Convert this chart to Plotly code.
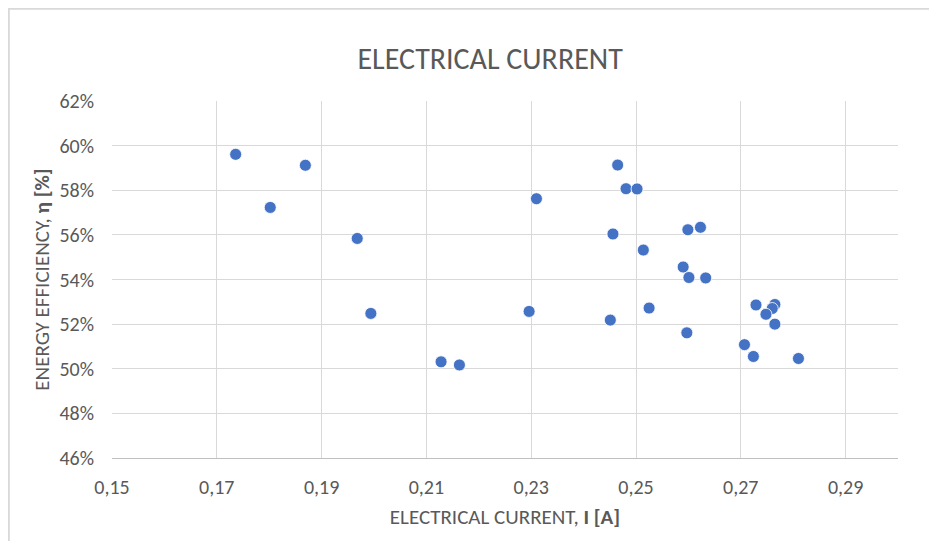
import plotly.graph_objects as go

current_A = [0.1736, 0.1869, 0.1802, 0.1968, 0.1994, 0.2128, 0.2163,
             0.2465, 0.2481, 0.2502, 0.2310, 0.2456, 0.2599, 0.2623,
             0.2514, 0.2590, 0.2601, 0.2633, 0.2296, 0.2525, 0.2451,
             0.2597, 0.2729, 0.2765, 0.2760, 0.2748, 0.2765, 0.2707,
             0.2724, 0.2810]
efficiency = [0.5961, 0.5912, 0.5723, 0.5584, 0.5248, 0.5031, 0.5017,
              0.5913, 0.5807, 0.5806, 0.5762, 0.5604, 0.5623, 0.5634,
              0.5532, 0.5456, 0.5409, 0.5407, 0.5257, 0.5272, 0.5218,
              0.5161, 0.5286, 0.5288, 0.5270, 0.5244, 0.5200, 0.5108,
              0.5055, 0.5046]

title_text = "ELECTRICAL CURRENT"
x_title = "ELECTRICAL CURRENT, <b>I [A]</b>"
y_title = "ENERGY EFFICIENCY, <b>η [%]</b>"

FONT = "Carlito, 'Liberation Sans Narrow', 'Open Sans', sans-serif"
GREY = "#595959"

W, H = 929, 533
L, R, T, B = 104, 39, 93, 83

fig = go.Figure(go.Scatter(
    x=current_A, y=efficiency, mode="markers",
    marker=dict(size=12, color="#4472C4", line=dict(color="white", width=0.8)),
    hoverinfo="x+y",
))

pw, ph = W - L - R, H - T - B

fig.update_layout(
    width=W, height=H,
    margin=dict(l=L, r=R, t=T, b=B),
    paper_bgcolor="white", plot_bgcolor="white",
    separators=",.",
    font=dict(family=FONT, color=GREY, size=20),
    title=dict(text=title_text, x=0.519, xanchor="center", y=0.906, yanchor="middle",
               xref="container", yref="container",
               font=dict(size=30, color=GREY, family=FONT)),
    showlegend=False,
    shapes=[dict(type="rect", xref="paper", yref="paper",
                 x0=(0.8 - L) / pw, x1=(W + 20 - L) / pw,
                 y0=-(B + 20) / ph, y1=(T + ph - 0.8) / ph,
                 line=dict(color="#d9d9d9", width=2), layer="below")],
)

fig.update_xaxes(
    range=[0.15, 0.30], tick0=0.15, dtick=0.02, tickformat=".2f",
    showgrid=True, gridcolor="#d9d9d9", gridwidth=1,
    showline=True, linecolor="#bfbfbf", linewidth=1,
    zeroline=False, ticks="", ticklen=0, ticklabelstandoff=11,
    tickfont=dict(size=20, color=GREY),
    title=dict(text=x_title, font=dict(size=21, color=GREY), standoff=11),
)
fig.update_yaxes(
    range=[0.46, 0.62], tick0=0.46, dtick=0.02, tickformat=".0%",
    showgrid=True, gridcolor="#d9d9d9", gridwidth=1,
    showline=False, zeroline=False, ticks="", ticklen=0, ticklabelstandoff=17,
    tickfont=dict(size=20, color=GREY),
    title=dict(text=y_title, font=dict(size=21, color=GREY), standoff=4),
)

fig.write_html("out.html")
